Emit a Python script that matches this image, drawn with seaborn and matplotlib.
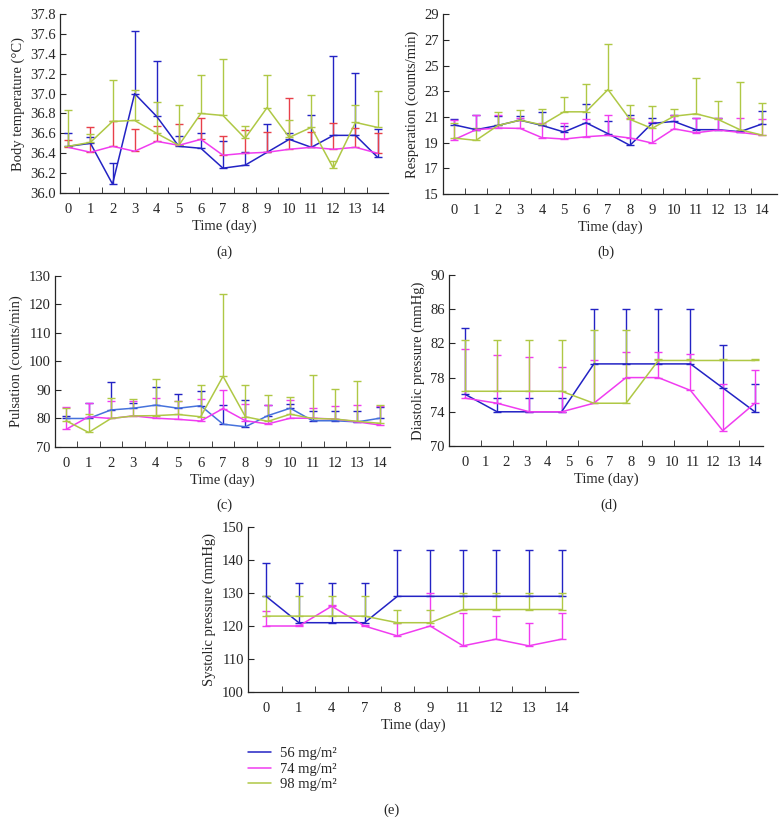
import numpy as np
import pandas as pd
import matplotlib
matplotlib.use('Agg')
import matplotlib.pyplot as plt
import seaborn as sns

groups = ['56 mg/m²', '74 mg/m²', '98 mg/m²']
days15 = list(range(15))
days_bp = ['0', '1', '4', '7', '8', '9', '11', '12', '13', '14']

# (a) body temperature: mean and upper SD
temp_56 = [36.47, 36.50, 36.09, 37.00, 36.77, 36.47, 36.45, 36.25, 36.28, 36.41, 36.54, 36.46, 36.58, 36.58, 36.36]
temp_56_sd = [0.13, 0.06, 0.21, 0.63, 0.56, 0.10, 0.15, 0.27, 0.13, 0.28, 0.06, 0.32, 0.80, 0.63, 0.28]
temp_74 = [36.46, 36.41, 36.47, 36.42, 36.52, 36.48, 36.54, 36.38, 36.40, 36.41, 36.44, 36.46, 36.44, 36.46, 36.40]
temp_74_sd = [0.07, 0.25, 0.25, 0.22, 0.15, 0.21, 0.21, 0.19, 0.23, 0.20, 0.52, 0.15, 0.26, 0.19, 0.20]
temp_98 = [36.47, 36.51, 36.72, 36.73, 36.60, 36.48, 36.80, 36.78, 36.55, 36.86, 36.56, 36.66, 36.25, 36.71, 36.66]
temp_98_sd = [0.36, 0.08, 0.42, 0.31, 0.32, 0.41, 0.39, 0.57, 0.12, 0.33, 0.17, 0.33, 0.07, 0.18, 0.37]

# (b) respiration
resp_56 = [20.39, 20.01, 20.34, 20.75, 20.34, 19.83, 20.55, 19.70, 18.79, 20.50, 20.65, 20.01, 20.01, 19.85, 20.45]
resp_56_sd = [0.42, 1.13, 0.76, 0.29, 1.03, 0.46, 1.47, 0.95, 2.40, 0.44, 0.54, 0.90, 0.90, 0.05, 1.05]
resp_74 = [19.23, 20.01, 20.14, 20.11, 19.39, 19.28, 19.46, 19.57, 19.36, 18.97, 20.08, 19.77, 19.98, 19.80, 19.59]
resp_74_sd = [1.50, 1.13, 1.00, 0.83, 1.13, 1.24, 1.42, 1.55, 1.55, 1.63, 1.09, 1.14, 0.93, 1.11, 1.24]
resp_98 = [19.36, 19.18, 20.34, 20.75, 20.39, 21.40, 21.40, 23.13, 20.81, 20.11, 21.06, 21.25, 20.81, 20.01, 19.59]
resp_98_sd = [1.14, 0.96, 1.01, 0.80, 1.22, 1.19, 2.14, 3.56, 1.13, 1.78, 0.55, 2.78, 1.47, 3.71, 2.53]

# (c) pulsation
puls_56 = [80.0, 80.0, 83.0, 83.6, 84.7, 83.6, 84.5, 78.0, 77.1, 81.0, 83.6, 79.2, 79.2, 78.8, 80.1]
puls_56_sd = [1.0, 5.3, 9.9, 2.0, 6.5, 5.0, 5.0, 6.8, 9.3, 3.8, 1.6, 3.6, 3.6, 4.0, 4.0]
puls_74 = [76.2, 80.6, 80.0, 80.9, 80.1, 79.7, 79.1, 83.5, 79.2, 78.1, 80.1, 80.1, 79.8, 78.8, 77.7]
puls_74_sd = [7.8, 4.7, 6.0, 5.1, 7.2, 6.3, 7.8, 6.6, 6.0, 6.7, 6.5, 3.7, 4.7, 6.0, 6.6]
puls_98 = [79.2, 75.1, 80.0, 80.9, 81.0, 81.4, 80.6, 94.8, 80.6, 79.0, 81.5, 80.0, 79.8, 79.0, 78.3]
puls_98_sd = [4.5, 6.5, 7.1, 6.1, 12.8, 4.6, 11.3, 29.0, 11.1, 9.3, 5.9, 15.3, 10.5, 14.0, 6.4]

# (d) diastolic pressure
dia_56 = [76.05, 74.0, 74.0, 74.0, 79.6, 79.6, 79.6, 79.6, 76.8, 74.0]
dia_56_sd = [7.75, 1.6, 1.6, 1.6, 6.4, 6.4, 6.4, 6.4, 5.0, 3.3]
dia_74 = [75.6, 75.0, 74.0, 74.0, 75.0, 78.0, 78.0, 76.5, 71.8, 75.0]
dia_74_sd = [5.8, 5.6, 6.4, 5.2, 5.0, 3.0, 3.0, 4.2, 5.5, 3.9]
dia_98 = [76.4, 76.4, 76.4, 76.4, 75.0, 75.0, 80.0, 80.0, 80.0, 80.0]
dia_98_sd = [6.0, 6.0, 6.0, 6.0, 8.6, 8.6, 0.2, 0.2, 0.2, 0.2]

# (e) systolic pressure
sys_56 = [129, 121, 121, 121, 129, 129, 129, 129, 129, 129]
sys_56_sd = [10, 12, 12, 12, 14, 14, 14, 14, 14, 14]
sys_74 = [120, 120, 126, 120, 117, 120, 114, 116, 114, 116]
sys_74_sd = [4.6, 0.3, 0.3, 0.3, 4, 10, 10, 6.9, 6.9, 8]
sys_98 = [123, 123, 123, 123, 121, 121, 125, 125, 125, 125]
sys_98_sd = [6, 6, 6, 6, 4, 4, 5, 5, 5, 5]

BLUE = '#2323c4'
MAGENTA = '#f03cf0'
GREEN = '#afc845'

sns.set_style('ticks')
plt.rcParams['font.family'] = ['Liberation Serif', 'DejaVu Serif']
plt.rcParams['font.size'] = 10


def panel(ax, x, means, sds, colors, err_colors, legend=False):
    rows = []
    for g, m in zip(groups, means):
        for xi, v in zip(x, m):
            rows.append({'x': xi, 'y': v, 'group': g})
    df = pd.DataFrame(rows)
    for m, s, c in zip(means, sds, err_colors):
        ax.errorbar(x, m, yerr=[np.zeros(len(s)), s], fmt='none', ecolor=c,
                    elinewidth=1.0, capsize=2.6, capthick=1.0)
    sns.lineplot(data=df, x='x', y='y', hue='group', palette=dict(zip(groups, colors)),
                 linewidth=1.1, ax=ax, legend=legend)
    sns.despine(ax=ax)
    ax.tick_params(axis='y', direction='in', length=4, labelsize=10.5, pad=3)
    ax.tick_params(axis='x', which='major', length=0, labelsize=10.5, pad=7)
    ax.tick_params(axis='x', which='minor', direction='in', length=4)
    for sp in ax.spines.values():
        sp.set_linewidth(0.9)
    ax.set_xlabel('Time (day)', fontsize=10.5, labelpad=3)


fig = plt.figure(figsize=(7.82, 8.25), dpi=100)

# (a)
ax = fig.add_axes([0.0767, 0.766, 0.4194, 0.217])
panel(ax, days15, [temp_56, temp_74, temp_98], [temp_56_sd, temp_74_sd, temp_98_sd],
      [BLUE, MAGENTA, GREEN], [BLUE, '#e8404a', GREEN])
ax.set_xlim(-0.38, 14.47)
ax.set_ylim(36.0, 37.8)
ax.set_yticks(np.arange(36.0, 37.81, 0.2))
ax.set_yticklabels([f'{v:.1f}' for v in np.arange(36.0, 37.81, 0.2)])
ax.set_xticks(days15)
ax.set_xticks(np.arange(0.5, 14, 1), minor=True)
ax.set_ylabel('Body temperature (°C)', fontsize=10.5)

# (b)
ax = fig.add_axes([0.5665, 0.7648, 0.427, 0.218])
panel(ax, days15, [resp_56, resp_74, resp_98], [resp_56_sd, resp_74_sd, resp_98_sd],
      [BLUE, MAGENTA, GREEN], [BLUE, MAGENTA, GREEN])
ax.set_xlim(-0.5, 14.68)
ax.set_ylim(15, 29)
ax.set_yticks(range(15, 30, 2))
ax.set_xticks(days15)
ax.set_xticks(np.arange(0.5, 14, 1), minor=True)
ax.set_ylabel('Resperation (counts/min)', fontsize=10.5)

# (c)
ax = fig.add_axes([0.0703, 0.4582, 0.4284, 0.2073])
panel(ax, days15, [puls_56, puls_74, puls_98], [puls_56_sd, puls_74_sd, puls_98_sd],
      ['#4672dc', MAGENTA, GREEN], [BLUE, MAGENTA, GREEN])
ax.set_xlim(-0.5, 14.45)
ax.set_ylim(70, 130)
ax.set_yticks(range(70, 131, 10))
ax.set_xticks(days15)
ax.set_xticks(np.arange(0.5, 14, 1), minor=True)
ax.set_ylabel('Pulsation (counts/min)', fontsize=10.5)

# (d)
xd = np.linspace(0, 14, len(dia_56))
ax = fig.add_axes([0.5742, 0.4594, 0.4015, 0.2073])
panel(ax, xd, [dia_56, dia_74, dia_98], [dia_56_sd, dia_74_sd, dia_98_sd],
      [BLUE, MAGENTA, GREEN], [BLUE, MAGENTA, GREEN])
ax.set_xlim(-0.77, 14.39)
ax.set_ylim(70, 90)
ax.set_yticks(range(70, 91, 4))
ax.set_xticks(days15)
ax.set_xticks((xd[:-1] + xd[1:]) / 2, minor=True)
ax.set_ylabel('Diastolic pressure (mmHg)', fontsize=10.5)

# (e)
xe = np.arange(len(days_bp))
ax = fig.add_axes([0.3171, 0.1612, 0.422, 0.2])
panel(ax, xe, [sys_56, sys_74, sys_98], [sys_56_sd, sys_74_sd, sys_98_sd],
      [BLUE, MAGENTA, GREEN], [BLUE, MAGENTA, GREEN], legend=True)
ax.set_xlim(-0.55, 9.5)
ax.set_ylim(100, 150)
ax.set_yticks(range(100, 151, 10))
ax.set_xticks(xe)
ax.set_xticklabels(days_bp)
ax.set_xticks(xe[:-1] + 0.5, minor=True)
ax.set_ylabel('Systolic pressure (mmHg)', fontsize=10.5)
handles, labels = ax.get_legend_handles_labels()
ax.get_legend().remove()
fig.legend(handles, labels, loc='upper left', bbox_to_anchor=(0.3, 1 - 734 / 825),
           frameon=False, fontsize=10.5, handlelength=1.6, handletextpad=0.6,
           labelspacing=0.15)

for lbl, x, y in [('(a)', 0.287, 1 - 252 / 825), ('(b)', 0.775, 1 - 252 / 825),
                  ('(c)', 0.287, 1 - 505 / 825), ('(d)', 0.778, 1 - 505 / 825),
                  ('(e)', 0.5, 1 - 810 / 825)]:
    fig.text(x, y, lbl, ha='center', va='center', fontsize=10.5)

fig.savefig('out.png', dpi=100)
